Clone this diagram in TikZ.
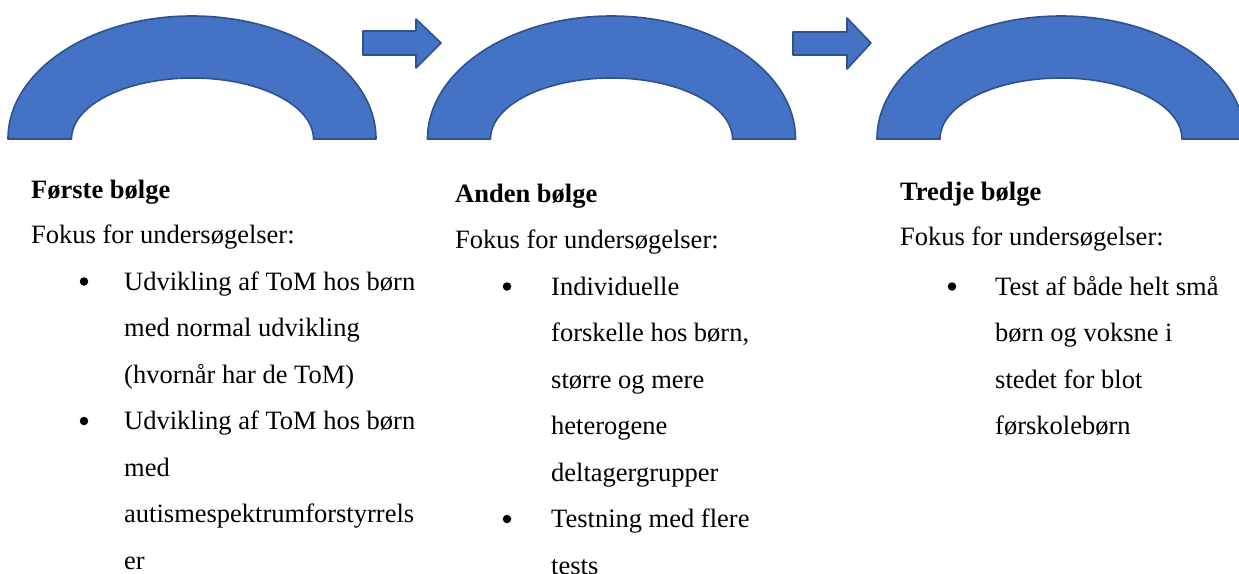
\documentclass[tikz,border=0pt]{standalone}
\usepackage{fontspec}
\setmainfont{Liberation Serif}
\definecolor{wavefill}{HTML}{4472C4}
\definecolor{waveline}{HTML}{2F528F}
\tikzset{
  wave/.style={fill=wavefill,draw=waveline,line width=1.6pt,line join=round},
  wavetitle/.style={anchor=base west,inner sep=0pt,font=\fontsize{26.5}{31.8}\selectfont\bfseries},
  wavetext/.style={anchor=base west,inner sep=0pt,font=\fontsize{26.5}{31.8}\selectfont},
  wavebullet/.style={circle,fill=black,inner sep=0pt,minimum size=8.5pt},
}
\begin{document}
\begin{tikzpicture}[x=1pt,y=-1pt]
\path[use as bounding box] (0,0) rectangle (1239.0,573.0);
\clip (0,0) rectangle (1239.0,573.0);
% arches
\draw[wave] (8,139) arc[start angle=180,end angle=360,x radius=184,y radius=123] -- (313.5,139) arc[start angle=360,end angle=180,x radius=121,y radius=61] -- cycle;
\draw[wave] (427.5,139) arc[start angle=180,end angle=360,x radius=184,y radius=123] -- (732.5,139) arc[start angle=360,end angle=180,x radius=121,y radius=61] -- cycle;
\draw[wave] (877,139) arc[start angle=180,end angle=360,x radius=184,y radius=123] -- (1182,139) arc[start angle=360,end angle=180,x radius=121,y radius=61] -- cycle;
% block arrows
\draw[wave] (363,31) -- (416,31) -- (416,19) -- (441,43) -- (416,68) -- (416,55) -- (363,55) -- cycle;
\draw[wave] (793,32) -- (847,32) -- (847,18) -- (871,43) -- (847,69) -- (847,55) -- (793,55) -- cycle;
% first wave
\node[wavetitle] (first) at (31,198) {Første bølge};
\node[wavetext] (focus1) at (31,243) {Fokus for undersøgelser:};
\node[wavebullet] (dot1a) at (84,281.5) {};
\node[wavetext] (l1a) at (124,290) {Udvikling af ToM hos børn};
\node[wavetext] (l1b) at (124,336.5) {med normal udvikling};
\node[wavetext] (l1c) at (124,383) {(hvornår har de ToM)};
\node[wavebullet] (dot1b) at (84,421) {};
\node[wavetext] (l1d) at (124,429.5) {Udvikling af ToM hos børn};
\node[wavetext] (l1e) at (124,476) {med};
\node[wavetext] (l1f) at (124,522.5) {autismespektrumforstyrrels};
\node[wavetext] (l1g) at (124,569) {er};
% second wave
\node[wavetitle] (second) at (455,202) {Anden bølge};
\node[wavetext] (focus2) at (455,248) {Fokus for undersøgelser:};
\node[wavebullet] (dot2a) at (507,286.5) {};
\node[wavetext] (l2a) at (551,295) {Individuelle};
\node[wavetext] (l2b) at (551,341.5) {forskelle hos børn,};
\node[wavetext] (l2c) at (551,388) {større og mere};
\node[wavetext] (l2d) at (551,434.5) {heterogene};
\node[wavetext] (l2e) at (551,481) {deltagergrupper};
\node[wavebullet] (dot2b) at (507,519) {};
\node[wavetext] (l2f) at (551,527.5) {Testning med flere};
\node[wavetext] (l2g) at (551,574) {tests};
% third wave
\node[wavetitle] (third) at (900,200) {Tredje bølge};
\node[wavetext] (focus3) at (900,245) {Fokus for undersøgelser:};
\node[wavebullet] (dot3a) at (952,286.5) {};
\node[wavetext] (l3a) at (995,295) {Test af både helt små};
\node[wavetext] (l3b) at (995,341.5) {børn og voksne i};
\node[wavetext] (l3c) at (995,388) {stedet for blot};
\node[wavetext] (l3d) at (995,434.5) {førskolebørn};
\end{tikzpicture}
\end{document}
